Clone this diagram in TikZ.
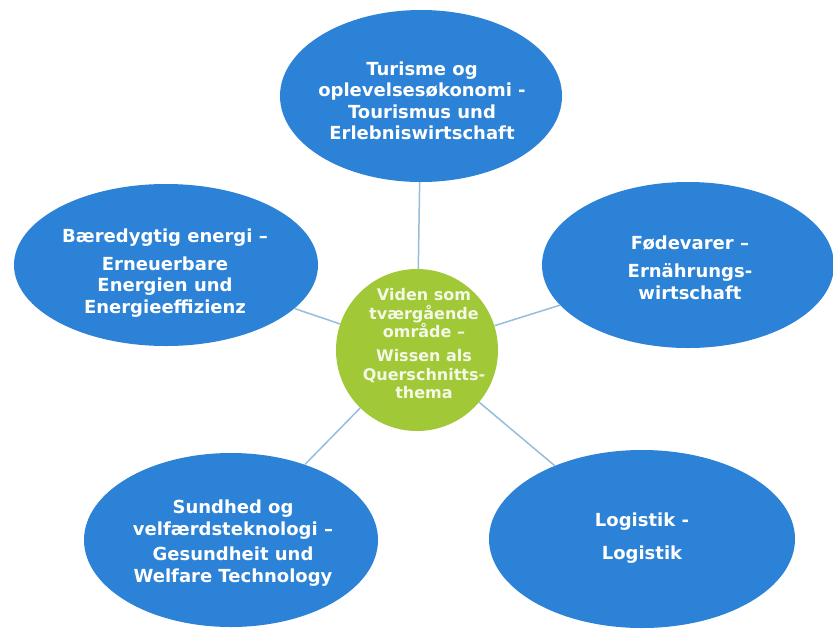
\documentclass[tikz,border=0pt]{standalone}
\usepackage{fontspec}
\setmainfont{DejaVu Sans}
\usetikzlibrary{shapes.geometric,calc}
\definecolor{blobblue}{RGB}{43,130,214}
\definecolor{hubgreen}{RGB}{160,200,55}
\definecolor{linkcol}{RGB}{150,190,220}
\begin{document}
\begin{tikzpicture}[x=1pt,y=-1pt,
  blob/.style={ellipse, fill=blobblue, draw=none, inner sep=0pt},
  hub/.style={circle, fill=hubgreen, draw=none, inner sep=0pt, minimum size=162pt},
  txt/.style={text=white, font=\bfseries\fontsize{18}{21.5}\selectfont, align=center, inner sep=0pt},
  hubtxt/.style={text=white!88!hubgreen, font=\bfseries\fontsize{16}{18.5}\selectfont, align=center, inner sep=0pt},
  conn/.style={draw=linkcol, line width=1.5pt}]
\fill[white] (0,0) rectangle (833,630);
\useasboundingbox (0,0) rectangle (833,630);

\node[blob, minimum width=282pt, minimum height=172pt] (top) at (421,96) {};
\node[blob, minimum width=304pt, minimum height=162pt] (left) at (166,265) {};
\node[blob, minimum width=292pt, minimum height=166pt] (right) at (688,265) {};
\node[blob, minimum width=294pt, minimum height=174pt] (bl) at (231,540) {};
\node[blob, minimum width=306pt, minimum height=178pt] (br) at (642,539) {};
\node[hub] (hub) at (417,350) {};

\draw[conn] (hub) -- (top);
\draw[conn] (hub) -- (left);
\draw[conn] (hub) -- (right);
\draw[conn] (hub) -- (bl);
\draw[conn] (hub) -- (br);

\node[txt] (toptxt) at (422,101) {Turisme og\\oplevelsesøkonomi -\\Tourismus und\\Erlebniswirtschaft};
\node[txt] (lefttxt) at (165,273) {Bæredygtig energi –\\[6.5pt]Erneuerbare\\Energien und\\Energieeffizienz};
\node[txt] (righttxt) at (690,268) {Fødevarer –\\[6.5pt]Ernährungs-\\wirtschaft};
\node[txt] (bltxt) at (233,543) {Sundhed og\\velfærdsteknologi –\\[4pt]Gesundheit und\\Welfare Technology};
\node[txt] (brtxt) at (642,538) {Logistik -\\[11.5pt]Logistik};
\node[hubtxt] (hubtxt) at (424,344) {Viden som\\tværgående\\område –\\[5.5pt]Wissen als\\Querschnitts-\\thema};
\end{tikzpicture}
\end{document}
